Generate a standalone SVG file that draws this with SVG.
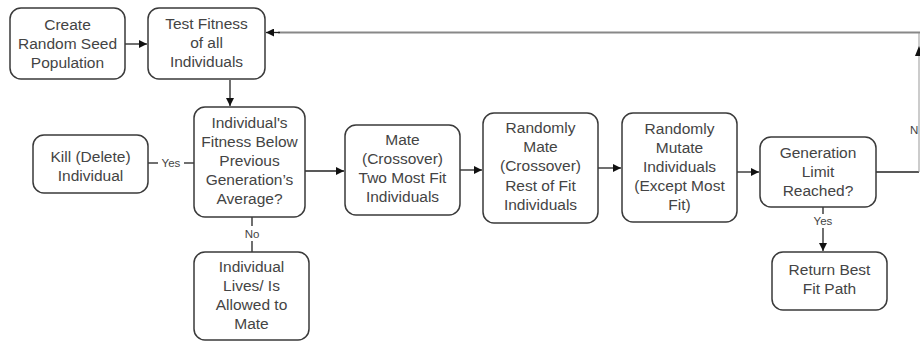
<svg xmlns="http://www.w3.org/2000/svg" width="920" height="342" viewBox="0 0 920 342">
<defs>
<style>
.box{fill:#fff;stroke:#3a3a3a;stroke-width:1.5}
.t{font-family:"Liberation Sans",Arial,sans-serif;font-size:15.5px;fill:#444;text-anchor:middle}
.lbl{font-family:"Liberation Sans",Arial,sans-serif;font-size:11.5px;fill:#444;text-anchor:middle}
.c{fill:none;stroke:#222;stroke-width:1.3}
.g{fill:none;stroke:#888;stroke-width:2.2}
</style>
<marker id="ah" viewBox="0 0 10 10" refX="10" refY="5" markerWidth="10" markerHeight="8" markerUnits="userSpaceOnUse" orient="auto">
<path d="M0,0 L10,5 L0,10 z" fill="#111"/>
</marker>
</defs>
<rect width="920" height="342" fill="#fff"/>
<g id="connectors">
<line class="c" x1="125" y1="44" x2="147" y2="44" marker-end="url(#ah)"/>
<line class="g" x1="920" y1="32.5" x2="278" y2="32.5"/>
<line class="c" x1="280" y1="32.5" x2="266" y2="32.5" marker-end="url(#ah)"/>
<line class="c" x1="230" y1="80" x2="230" y2="106" marker-end="url(#ah)"/>
<line class="c" x1="148" y1="163" x2="158" y2="163"/>
<line class="c" x1="184" y1="163" x2="194" y2="163"/>
<text class="lbl" x="171" y="167">Yes</text>
<line class="c" x1="252" y1="217" x2="252" y2="226"/>
<line class="c" x1="252" y1="241" x2="252" y2="252"/>
<text class="lbl" x="252" y="238">No</text>
<line class="c" x1="305" y1="171" x2="344" y2="171" marker-end="url(#ah)"/>
<line class="c" x1="460" y1="170" x2="482" y2="170" marker-end="url(#ah)"/>
<line class="c" x1="598" y1="168" x2="621" y2="168" marker-end="url(#ah)"/>
<line class="c" x1="737" y1="172" x2="759" y2="172" marker-end="url(#ah)"/>
<line class="c" x1="876" y1="172" x2="919" y2="172"/>
<line x1="919" y1="172" x2="919" y2="33" stroke="#999" stroke-width="1"/>
<path d="M919,46 L915,56 L923,56 z" fill="#111"/>
<text class="lbl" x="910" y="134" style="text-anchor:start">N</text>
<line class="c" x1="823" y1="207" x2="823" y2="214"/>
<line class="c" x1="823" y1="228" x2="823" y2="251" marker-end="url(#ah)"/>
<text class="lbl" x="823" y="225">Yes</text>
</g>
<g id="create">
<rect class="box" x="10" y="8" width="115" height="71" rx="11"/>
<text class="t" x="67.5" y="30">Create</text>
<text class="t" x="67.5" y="49">Random Seed</text>
<text class="t" x="67.5" y="68">Population</text>
</g>
<g id="test">
<rect class="box" x="148" y="8" width="117" height="71" rx="11"/>
<text class="t" x="206.5" y="29">Test Fitness</text>
<text class="t" x="206.5" y="48">of all</text>
<text class="t" x="206.5" y="67">Individuals</text>
</g>
<g id="decision">
<rect class="box" x="194" y="107" width="111" height="110" rx="11"/>
<text class="t" x="249.5" y="128">Individual's</text>
<text class="t" x="249.5" y="147">Fitness Below</text>
<text class="t" x="249.5" y="166">Previous</text>
<text class="t" x="249.5" y="185">Generation’s</text>
<text class="t" x="249.5" y="204">Average?</text>
</g>
<g id="kill">
<rect class="box" x="33" y="135" width="115" height="58" rx="11"/>
<text class="t" x="90.5" y="162">Kill (Delete)</text>
<text class="t" x="90.5" y="181">Individual</text>
</g>
<g id="lives">
<rect class="box" x="194" y="252" width="115" height="88" rx="11"/>
<text class="t" x="251.5" y="272">Individual</text>
<text class="t" x="251.5" y="291">Lives/ Is</text>
<text class="t" x="251.5" y="310">Allowed to</text>
<text class="t" x="251.5" y="329">Mate</text>
</g>
<g id="mate">
<rect class="box" x="345" y="125" width="115" height="90" rx="11"/>
<text class="t" x="402.5" y="145">Mate</text>
<text class="t" x="402.5" y="164">(Crossover)</text>
<text class="t" x="402.5" y="183">Two Most Fit</text>
<text class="t" x="402.5" y="202">Individuals</text>
</g>
<g id="randmate">
<rect class="box" x="483" y="113" width="115" height="110" rx="11"/>
<text class="t" x="540.5" y="133">Randomly</text>
<text class="t" x="540.5" y="152">Mate</text>
<text class="t" x="540.5" y="171">(Crossover)</text>
<text class="t" x="540.5" y="191">Rest of Fit</text>
<text class="t" x="540.5" y="210">Individuals</text>
</g>
<g id="mutate">
<rect class="box" x="622" y="113" width="115" height="109" rx="11"/>
<text class="t" x="679.5" y="134">Randomly</text>
<text class="t" x="679.5" y="153">Mutate</text>
<text class="t" x="679.5" y="172">Individuals</text>
<text class="t" x="679.5" y="191">(Except Most</text>
<text class="t" x="679.5" y="210">Fit)</text>
</g>
<g id="genlimit">
<rect class="box" x="760" y="137" width="116" height="70" rx="11"/>
<text class="t" x="818" y="158">Generation</text>
<text class="t" x="818" y="177">Limit</text>
<text class="t" x="818" y="196">Reached?</text>
</g>
<g id="return">
<rect class="box" x="772" y="252" width="115" height="58" rx="11"/>
<text class="t" x="829.5" y="275">Return Best</text>
<text class="t" x="829.5" y="294">Fit Path</text>
</g>
</svg>
